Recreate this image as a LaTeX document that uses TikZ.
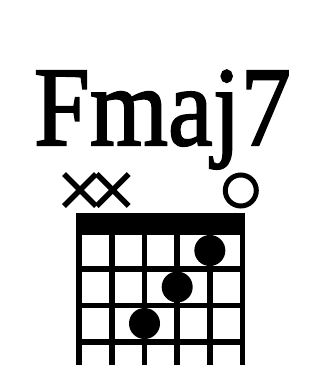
\documentclass[tikz,border=0pt]{standalone}
\usepackage{fontspec}
\setmainfont{Liberation Serif}
\newfontfamily\titlefont[FakeBold=1.8]{Liberation Serif}
\usetikzlibrary{calc}
\begin{document}
\begin{tikzpicture}[x=1pt,y=-1pt,
  fingerdot/.style={circle,fill=black,inner sep=0pt,minimum size=31pt},
  gridline/.style={line width=5.5pt,black},
  mutemark/.style={line width=5.5pt,black}]
\useasboundingbox (0,0) rectangle (325,365);
\clip (0,0) rectangle (325,365);
% title
\node[anchor=base,inner sep=0pt,xscale=0.89] (title) at (162.4,145)
  {\fontsize{113}{113}\selectfont\titlefont Fmaj7};
% nut
\fill (76.7,213) rectangle (245,235);
% strings
\foreach \i in {0,...,5}{
  \coordinate (s\i top) at ({79.2+32.66*\i},213);
  \coordinate (s\i bot) at ({79.2+32.66*\i},380);
  \draw[gridline] (s\i top) -- (s\i bot);
}
% frets
\foreach \f/\y in {1/269,2/305.5,3/342}{
  \coordinate (f\f l) at (76.7,\y);
  \coordinate (f\f r) at (245,\y);
  \draw[gridline,line cap=butt] (f\f l) -- (f\f r);
}
% mute marks
\foreach \i in {0,1}{
  \coordinate (m\i) at ({80+32.66*\i},190);
  \draw[mutemark] ($(m\i)+(-16,-16)$) -- ($(m\i)+(16,16)$);
  \draw[mutemark] ($(m\i)+(-16,16)$) -- ($(m\i)+(16,-16)$);
}
% open string
\coordinate (open6) at (240.8,190.5);
\draw[line width=5pt] (open6) circle[radius=15.5pt];
% finger dots
\node[fingerdot] (d1) at ({79.2+32.66*4},250.5) {};
\node[fingerdot] (d2) at ({79.2+32.66*3},287) {};
\node[fingerdot] (d3) at ({79.2+32.66*2},323.5) {};
\end{tikzpicture}
\end{document}
